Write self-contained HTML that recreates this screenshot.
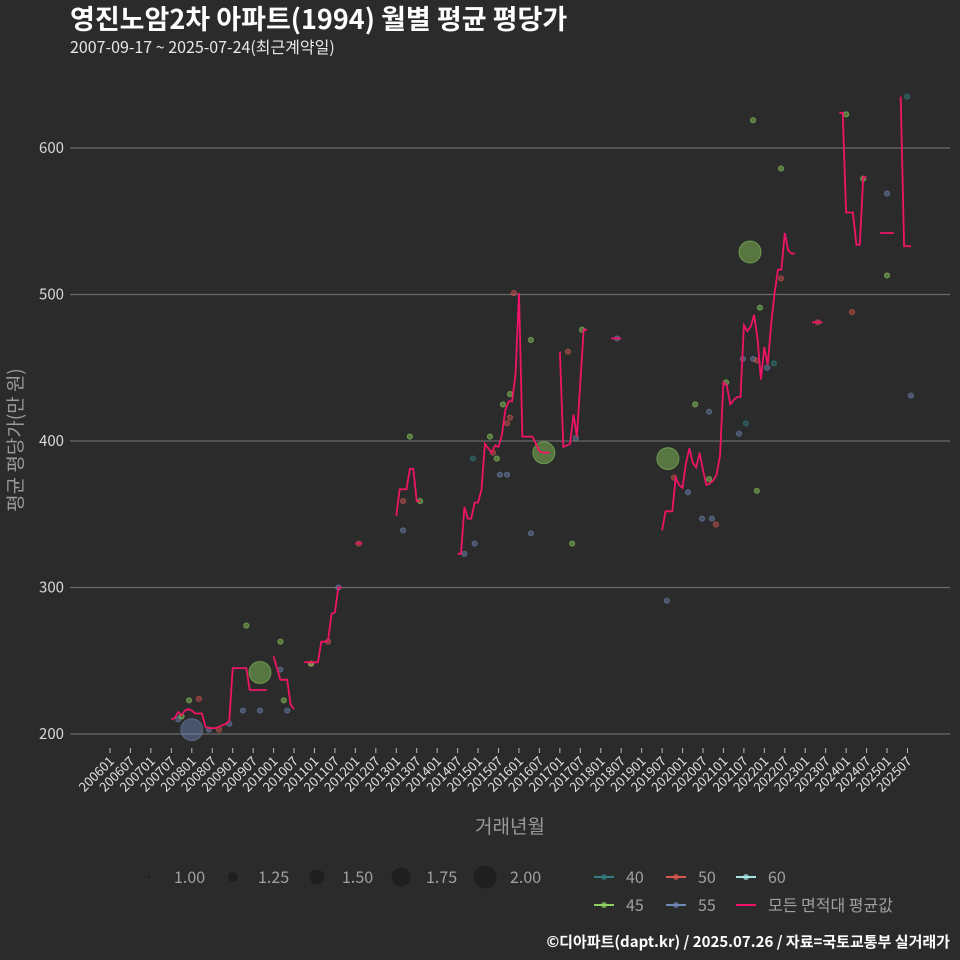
<!DOCTYPE html>
<html><head><meta charset="utf-8"><style>
html,body{margin:0;padding:0;background:#2b2b2b;}
svg{display:block;font-family:"Noto Sans CJK KR","Liberation Sans",sans-serif;}
</style></head><body>
<svg id="chart" width="960" height="960" xmlns="http://www.w3.org/2000/svg">
<rect width="960" height="960" fill="#2b2b2b"/>
<text x="70" y="29" fill="#ffffff" font-size="27" font-weight="bold">영진노암2차 아파트(1994) 월별 평균 평당가</text>
<text x="70" y="53" fill="#e8e8e8" font-size="16">2007-09-17 ~ 2025-07-24(최근계약일)</text>
<g id="grid"></g>
<g id="yaxis"></g>
<g id="xaxis"></g>
<g id="points"></g>
<g id="lines"></g>
<text x="510" y="833" fill="#9a9a9a" font-size="19" text-anchor="middle">거래년월</text>
<text transform="translate(22,440) rotate(-90)" fill="#9a9a9a" font-size="19" text-anchor="middle">평균 평당가(만 원)</text>
<g id="legend"></g>
<text x="950" y="947" fill="#ffffff" font-size="15" font-weight="bold" text-anchor="end">©디아파트(dapt.kr) / 2025.07.26 / 자료=국토교통부 실거래가</text>
</svg>
<script>
// month index = months since 2006-01
const yTicks = [200, 300, 400, 500, 600];
const lineMonths = [18,19,20,21,22,23,24,25,26,27,28,29,30,31,32,33,34,35,36,37,38,39,40,41,42,43,44,45,46,null,
48,49,50,51,52,53,54,null,
57,58,59,60,61,62,63,64,65,66,67,68,null,
72,73,74,null,
84,85,86,87,88,89,90,91,null,
102,103,104,105,106,107,108,109,110,111,112,113,114,115,116,117,118,119,120,121,122,123,124,125,126,127,128,129,null,
132,133,134,135,136,137,138,139,140,null,
147,148,149,150,null,
162,163,164,165,166,167,168,169,170,171,172,173,174,175,176,177,178,179,180,181,182,183,184,185,186,187,188,189,190,191,192,193,194,195,196,197,198,199,200,201,null,
206,207,208,209,null,
214,215,216,217,218,219,220,221,222,null,
226,227,228,229,230,null,
232,233,234,235];
const lineValues = [210,211,215,213,216,217,216,214,214,214,205,204,204,204,205,206,207,209,245,245,245,245,245,230,230,230,230,230,230,null,
253,245,237,237,237,220,217,null,
249,249,249,249,249,263,263,264,282,283,300,300,null,
330,330,330,null,
349,367,367,367,381,381,359,359,null,
323,323,355,347,347,358,358,367,398,395,392,397,396,404,421,427,427,446,501,403,403,403,403,398,393,392,392,392,null,
461,396,397,398,418,403,440,476,476,null,
470,470,470,470,null,
339,352,352,352,375,370,368,385,395,385,382,392,380,370,371,373,377,390,440,438,425,428,430,430,479,475,478,486,470,442,464,452,480,501,517,517,542,530,528,528,null,
481,481,481,481,null,
624,624,556,556,556,534,534,580,580,null,
542,542,542,542,542,null,
635,533,533,533];
const ptMonths = [23.2,26.1,20,21,24,29,32,35,40,44,39,44,50,50,51,52,59,59,64,67,73,88,86,86,91,104,107,106.5,111.5,112.4,113.5,114.4,116.5,115.3,116.5,117.4,117.4,118.5,123.5,123.5,127.3,135.6,134.4,138.5,136.7,148.8,188.7,196.9,187.8,196.9,190.7,207.7,217.7,216,221,228,228,233.9,235,185.7,188.7,189.8,194.8,192.8,180.8,163.7,165.5,169.6,171.7,175.8,186.6,184.6,175.8,189.8,173.7,176.6,177.8,163.4];
const ptValues = [223,224,210,212,203,203,203,207,274,242,216,216,263,244,223,216,248,248,263,300,330,403,339,359,359,323,330,388,403,392,388,377,377,425,412,416,432,501,469,337,392,330,461,476,402,470,619,586,529,511,491,481,488,623,579,569,513,635,431,456,456,455,453,450,440,388,375,365,425,420,412,405,374,366,347,347,343,291];
const ptArea = [45,50,55,45,55,55,50,55,45,45,55,55,45,55,45,55,50,45,50,55,50,45,55,50,45,55,55,40,45,50,45,55,55,45,50,50,45,50,45,55,45,45,50,45,55,55,45,45,45,50,45,50,50,45,45,55,45,40,55,55,55,50,40,55,45,45,50,55,45,55,40,55,45,45,55,55,50,55];
const ptCount = [1,1,1,1,2,1,1,1,1,2,1,1,1,1,1,1,1,1,1,1,1,1,1,1,1,1,1,1,1,1,1,1,1,1,1,1,1,1,1,1,2,1,1,1,1,1,1,1,2,1,1,1,1,1,1,1,1,1,1,1,1,1,1,1,1,2,1,1,1,1,1,1,1,1,1,1,1,1];
const xTickLabels = [];
for (let y = 2006; y <= 2025; y++) { xTickLabels.push(y + "01"); xTickLabels.push(y + "07"); }

const NS = "http://www.w3.org/2000/svg";
const xs = m => 110 + m * 3.408;
const ys = v => 734 - (v - 200) * 1.465;
const colors = {40:"#2f7f80",45:"#8ed35e",50:"#d9574f",55:"#6f86b5",60:"#a8e6e6"};
function mk(tag, attrs, parent){ const e=document.createElementNS(NS,tag); for(const k in attrs) e.setAttribute(k,attrs[k]); parent.appendChild(e); return e; }

const grid=document.getElementById('grid'), yax=document.getElementById('yaxis');
yTicks.forEach(t=>{
  const l=mk('line',{x1:70,x2:950,y1:ys(t),y2:ys(t),stroke:'#6a6a6a','stroke-width':1.2},grid);
  
  
  const tx=mk('text',{x:64,y:ys(t)+5,fill:'#d8d8d8','font-size':15,'text-anchor':'end'},yax);
  tx.textContent=t;
  
  
});
const xax=document.getElementById('xaxis');
xTickLabels.forEach((lab,i)=>{
  const x=xs(i*6);
  const tk=mk('line',{x1:x,x2:x,y1:748,y2:753,stroke:'#bbbbbb','stroke-width':1},xax);
  
  
  const tx=mk('text',{transform:`translate(${x+5},${762}) rotate(-45)`,fill:'#e0e0e0','font-size':13,'text-anchor':'end'},xax);
  tx.textContent=lab;
  
  
});
const pg=document.getElementById('points');
ptMonths.forEach((m,i)=>{
  const r = ptCount[i]>1 ? 11 : 2.6;
  const c=mk('circle',{cx:xs(m),cy:ys(ptValues[i]),r:r,fill:colors[ptArea[i]],'fill-opacity':0.45,stroke:colors[ptArea[i]],'stroke-opacity':0.55,'stroke-width':1},pg);
  
  
});
const lg=document.getElementById('lines');
let d='', start=true;
lineMonths.forEach((m,i)=>{
  if(m===null||lineValues[i]===null){start=true;return;}
  d+=(start?'M':'L')+xs(m).toFixed(1)+','+ys(lineValues[i]).toFixed(1);
  start=false;
});
const p=mk('path',{d:d,fill:'none',stroke:'#ef1465','stroke-width':1.8},lg);



// legend
const leg=document.getElementById('legend');
const sizes=[["1.00",1.5],["1.25",5],["1.50",7.5],["1.75",9.5],["2.00",11.5]];
sizes.forEach((s,i)=>{
  const x=149+i*84;
  const c=mk('circle',{cx:x,cy:877,r:s[1],fill:'#1f1f1f'},leg);
  
  
  const t=mk('text',{x:x+25,y:883,fill:'#a0a0a0','font-size':16},leg);
  t.textContent=s[0];
  
  
});
const items=[[40,604,877],[50,676,877],[60,746,877],[45,604,905],[55,676,905]];
items.forEach(it=>{
  const col=colors[it[0]];
  const l=mk('line',{x1:it[1]-10,x2:it[1]+10,y1:it[2],y2:it[2],stroke:col,'stroke-width':2},leg);
  
  
  const c=mk('circle',{cx:it[1],cy:it[2],r:3,fill:col,'fill-opacity':0.7},leg);
  
  
  const t=mk('text',{x:it[1]+22,y:it[2]+6,fill:'#a0a0a0','font-size':16},leg);
  t.textContent=it[0];
  
  
});
const al=mk('line',{x1:736,x2:756,y1:905,y2:905,stroke:'#ef1465','stroke-width':2},leg);


const at=mk('text',{x:768,y:911,fill:'#a0a0a0','font-size':16},leg);
at.textContent='모든 면적대 평균값';


</script>
</body></html>
